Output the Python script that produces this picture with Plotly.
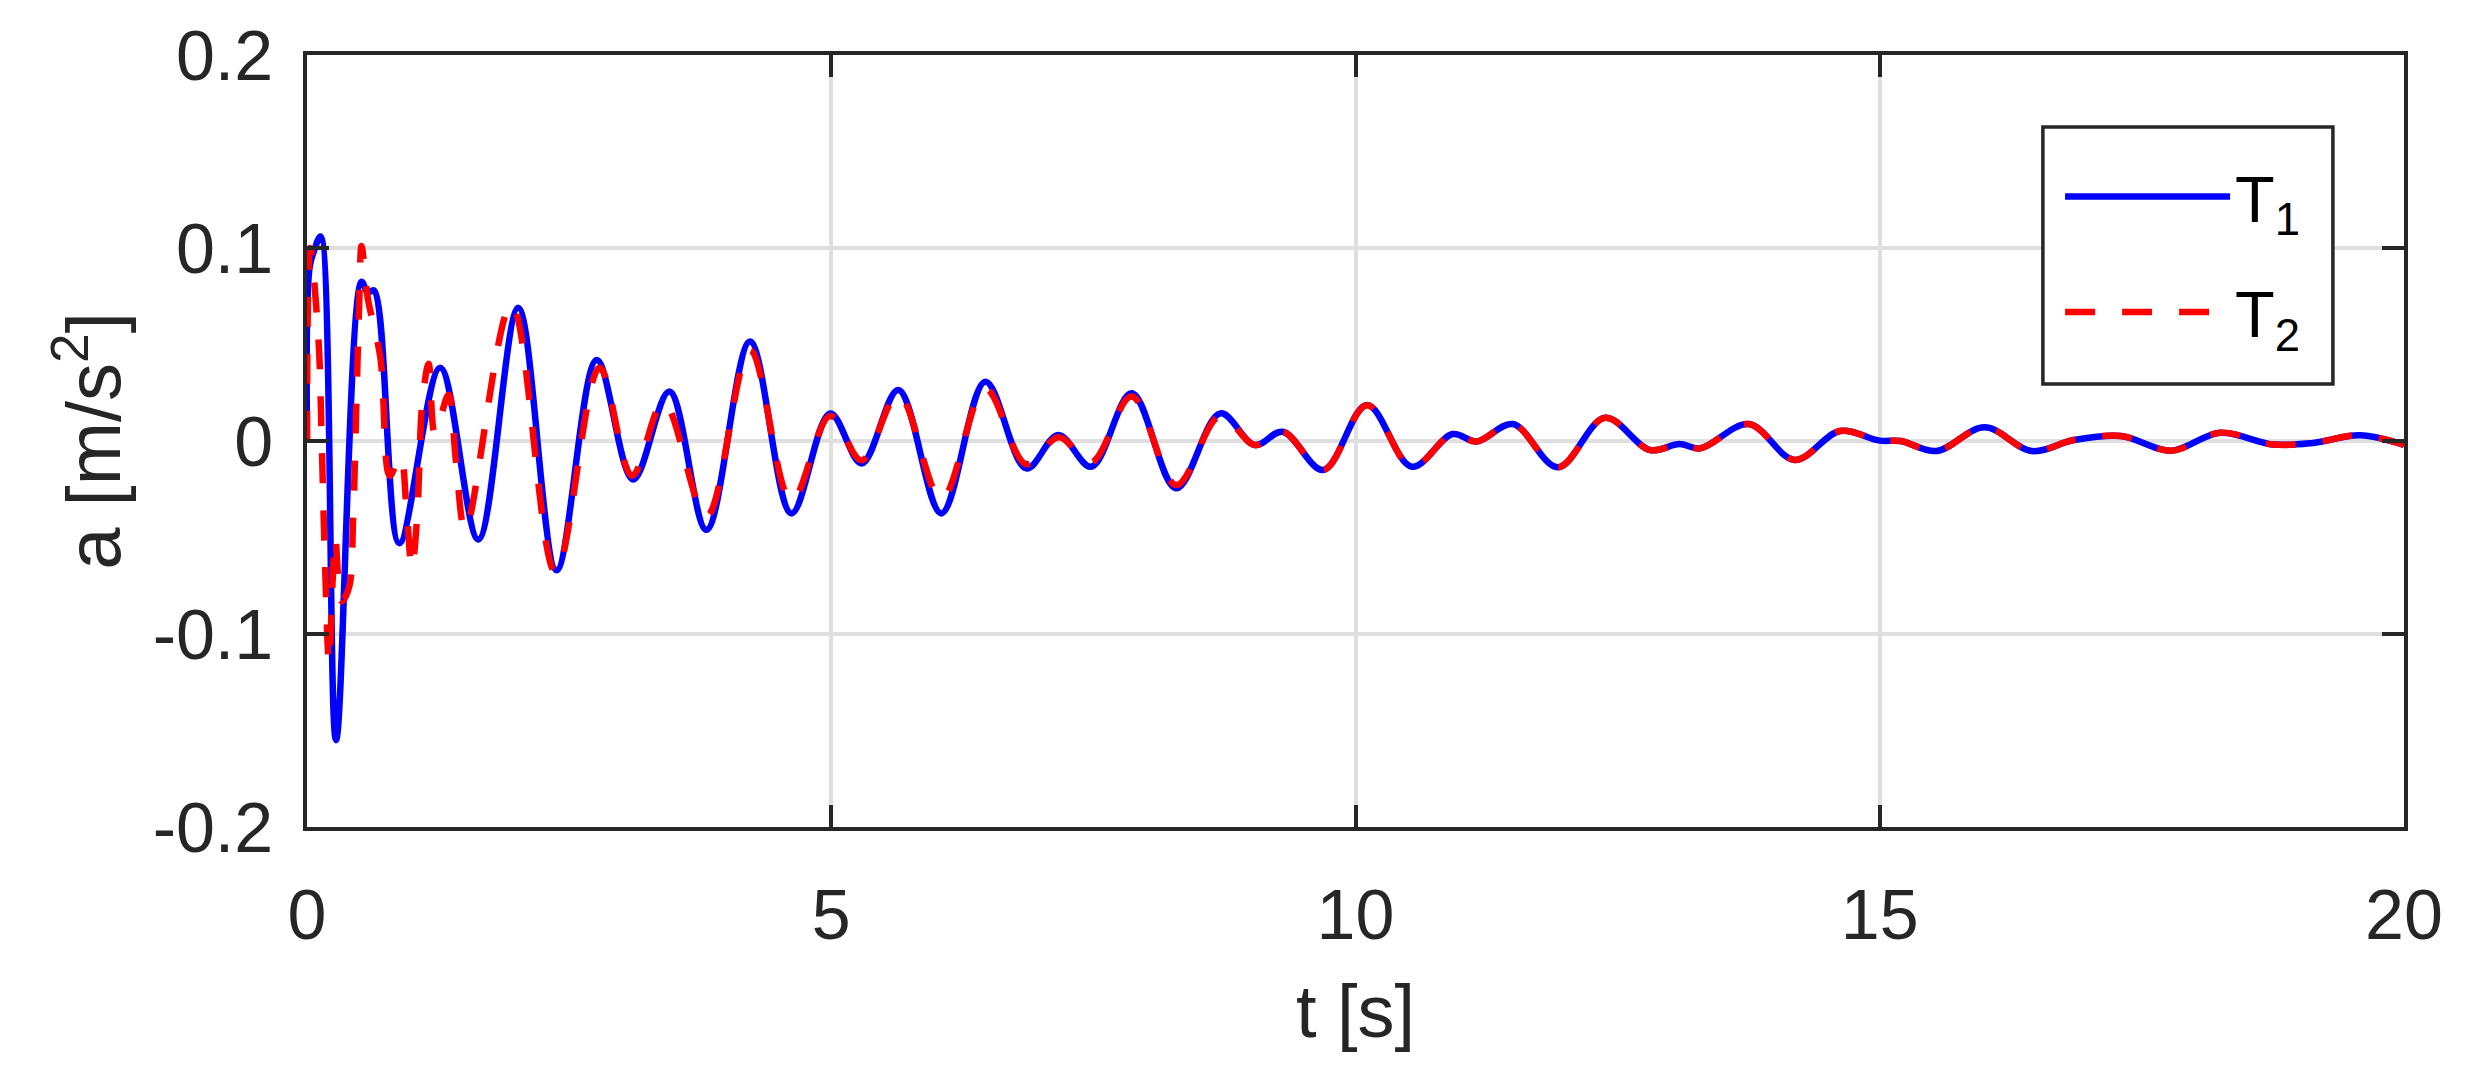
import plotly.graph_objects as go

# ---- data ----
t1 = [0.00, 0.025, 0.07, 0.13, 0.277, 0.52, 0.58, 0.64, 0.88, 1.27, 1.634, 2.015, 2.38,
      2.763, 3.11, 3.456, 3.81, 4.225, 4.62, 4.99, 5.29, 5.64, 6.05, 6.47, 6.86, 7.166,
      7.48, 7.865, 8.29, 8.71, 9.04, 9.306, 9.693, 10.11, 10.536, 10.926, 11.155, 11.50,
      11.93, 12.38, 12.81, 13.09, 13.29, 13.75, 14.19, 14.62, 15.0, 15.2, 15.54, 16.0,
      16.45, 16.85, 17.3, 17.78, 18.245, 18.75, 19.13, 19.58, 20.0]
a1 = [0.000, 0.090, 0.099, 0.106, -0.155, 0.0825, 0.077, 0.078, -0.053, 0.038, -0.051, 0.069, -0.067,
      0.042, -0.020, 0.0256, -0.046, 0.0515, -0.0375, 0.0143, -0.0116, 0.0264, -0.0375, 0.0307, -0.0142, 0.0031,
      -0.0133, 0.0247, -0.0245, 0.0143, -0.0021, 0.0048, -0.015, 0.0187, -0.0133, 0.0036, -0.0003, 0.0088,
      -0.0136, 0.012, -0.0047, -0.0016, -0.0038, 0.0088, -0.0098, 0.0052, 0.0002, 0.0, -0.0052, 0.0071,
      -0.0052, 0.0005, 0.0026, -0.005, 0.0043, -0.0018, -0.001, 0.003, -0.002]

t2 = [0.00, 0.03, 0.11, 0.14, 0.17, 0.21, 0.245, 0.27, 0.33, 0.40, 0.44, 0.47, 0.50, 0.52,
      0.58, 0.70, 0.79, 0.89, 0.95, 1.00, 1.05, 1.10, 1.16, 1.22, 1.35, 1.42, 1.51, 1.95,
      2.37, 2.79, 3.10, 3.40, 3.81, 4.225, 4.62, 4.99, 5.29, 5.64, 6.05, 6.47, 6.86, 7.17,
      7.48, 7.865, 8.29, 8.71, 9.04, 9.306, 9.693, 10.11, 10.536, 10.926, 11.155, 11.50,
      11.93, 12.38, 12.81, 13.09, 13.29, 13.75, 14.19, 14.62, 15.0, 15.2, 15.54, 16.0,
      16.45, 16.85, 17.3, 17.78, 18.245, 18.75, 19.13, 19.58, 20.0]
a2 = [0.000, 0.100, 0.052, 0.000, -0.060, -0.115, -0.072, -0.050, -0.083, -0.076, -0.040, 0.018, 0.075, 0.101,
      0.074, 0.043, -0.018, -0.008, -0.036, -0.066, -0.040, 0.020, 0.040, 0.004, 0.024, -0.010, -0.046, 0.071,
      -0.068, 0.038, -0.018, 0.020, -0.039, 0.047, -0.031, 0.013, -0.010, 0.024, -0.030, 0.027, -0.012, 0.002,
      -0.011, 0.023, -0.0228, 0.013, -0.0021, 0.0048, -0.015, 0.0185, -0.0133, 0.0036, -0.0003, 0.0088,
      -0.0136, 0.012, -0.0047, -0.0016, -0.0038, 0.0088, -0.0098, 0.0052, 0.0002, 0.0, -0.0052, 0.0071,
      -0.0052, 0.0005, 0.0026, -0.005, 0.0043, -0.0018, -0.001, 0.003, -0.002]

x_ticks = [0, 5, 10, 15, 20]
x_ticktext = ["0", "5", "10", "15", "20"]
y_ticks = [-0.2, -0.1, 0, 0.1, 0.2]
y_ticktext = ["-0.2", "-0.1", "0", "0.1", "0.2"]

names = ["T<sub>1</sub>", "T<sub>2</sub>"]

FONT = "Liberation Sans, Arial, Helvetica, sans-serif"
AX = "#262626"
GRID = "#dfdfdf"

fig = go.Figure()
fig.add_trace(go.Scatter(x=t1, y=a1, mode="lines", name=names[0], legendgroup="g1",
                         line=dict(color="#0000ff", width=6.5, shape="spline", smoothing=1.0)))
fig.add_trace(go.Scatter(x=t2, y=a2, mode="lines", name=names[1], legendgroup="g2",
                         line=dict(color="#ff0000", width=6.5, dash="30px,27px",
                                   shape="spline", smoothing=1.0)))

axis_common = dict(
    showline=True, linecolor=AX, linewidth=3.5, mirror="ticks",
    ticks="inside", ticklen=22, tickwidth=3.5, tickcolor=AX,
    showgrid=True, gridcolor=GRID, gridwidth=3.5, zeroline=False,
    tickfont=dict(family=FONT, size=70, color=AX),
)

fig.update_xaxes(range=[0, 20], tickvals=x_ticks, ticktext=x_ticktext,
                 ticklabelstandoff=24,
                 title=dict(text="t [s]", font=dict(family=FONT, size=74, color=AX), standoff=33),
                 **axis_common)
fig.update_yaxes(range=[-0.2, 0.2], tickvals=y_ticks, ticktext=y_ticktext,
                 ticklabelstandoff=16,
                 title=dict(text="a [m/s<sup>2</sup>]", font=dict(family=FONT, size=76, color=AX), standoff=8),
                 **axis_common)

# legend frame (white box with dark border), in paper coordinates
fig.add_shape(type="rect", xref="paper", yref="paper",
              x0=0.8278, x1=0.9661, y0=0.5738, y1=0.9067,
              line=dict(color=AX, width=3.5), fillcolor="white", layer="above")

fig.update_layout(
    width=2472, height=1084,
    margin=dict(l=307, r=68, t=55, b=257),
    paper_bgcolor="white", plot_bgcolor="white",
    font=dict(family=FONT, color=AX),
    showlegend=True,
    legend=dict(x=0.836, y=0.88, xanchor="left", yanchor="top",
                bgcolor="rgba(0,0,0,0)", borderwidth=0,
                font=dict(family=FONT, size=65, color="black"),
                itemwidth=165, tracegroupgap=28),
)

fig.write_html("out.html", config={"displayModeBar": False},
               post_script="document.body.style.margin='0';document.body.style.overflow='hidden';")
